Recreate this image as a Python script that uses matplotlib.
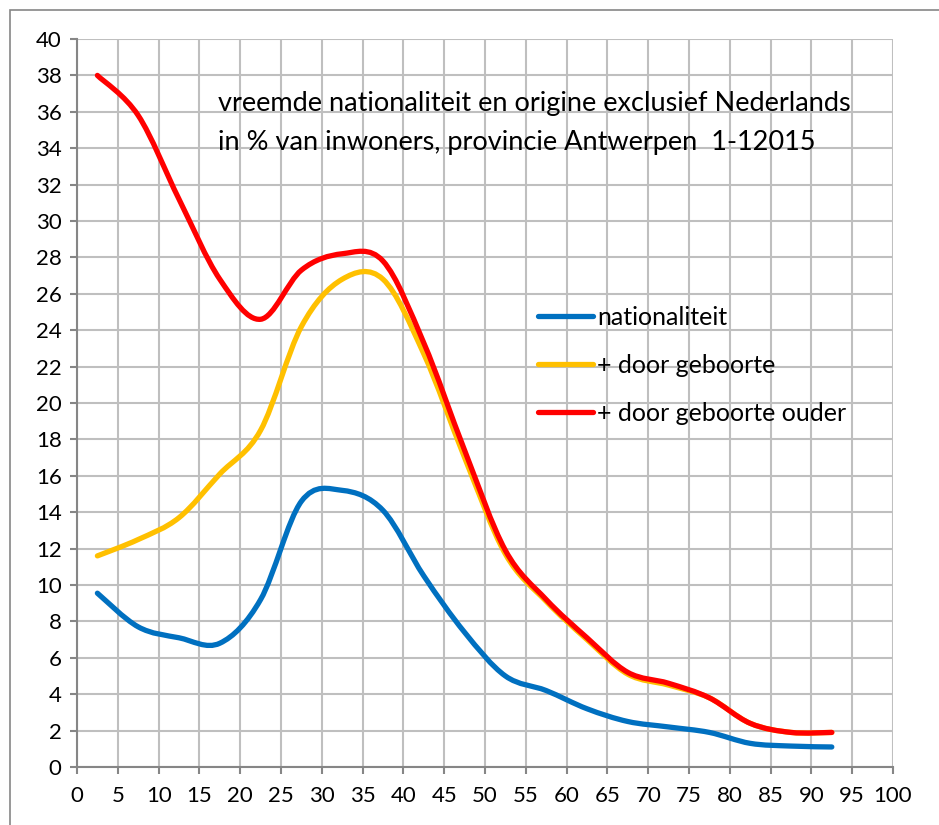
import numpy as np
import matplotlib
matplotlib.use("Agg")
import matplotlib.pyplot as plt
from matplotlib.path import Path
from matplotlib.patches import PathPatch, Rectangle
from matplotlib.lines import Line2D

plt.rcParams['font.family'] = ['Lato', 'DejaVu Sans']

# age group midpoints (5-year groups)
ages = [2.5, 7.5, 12.5, 17.5, 22.5, 27.5, 32.5, 37.5, 42.5, 47.5,
        52.5, 57.5, 62.5, 67.5, 72.5, 77.5, 82.5, 87.5, 92.5]

nationaliteit = [9.55, 7.7, 7.1, 6.8, 9.2, 14.6, 15.2, 14.1, 10.5, 7.4,
                 5.0, 4.2, 3.2, 2.5, 2.2, 1.9, 1.3, 1.15, 1.1]
door_geboorte = [11.6, 12.5, 13.7, 16.1, 18.5, 24.2, 26.8, 26.8, 22.7, 17.0,
                 11.7, 9.1, 7.0, 5.1, 4.5, 3.8, 2.4, 1.9, 1.9]
door_geboorte_ouder = [38.0, 35.8, 31.2, 26.8, 24.6, 27.3, 28.2, 27.8, 23.3, 17.4,
                       11.9, 9.2, 7.1, 5.2, 4.6, 3.8, 2.4, 1.9, 1.9]

series = [
    ("nationaliteit", nationaliteit, "#0070C0"),
    ("+ door geboorte", door_geboorte, "#FFC000"),
    ("+ door geboorte ouder", door_geboorte_ouder, "#FF0000"),
]

title_lines = ["vreemde nationaliteit en origine exclusief Nederlands",
               "in % van inwoners, provincie Antwerpen  1-12015"]


# Excel-style smoothed line: cubic bezier through the data points
def smooth_path(xs, ys):
    p = np.column_stack([xs, ys])
    n = len(p)
    verts = [p[0]]
    codes = [Path.MOVETO]
    for i in range(n - 1):
        p0 = p[i - 1] if i > 0 else p[i]
        p3 = p[i + 2] if i + 2 < n else p[i + 1]
        c1 = p[i] + (p[i + 1] - p0) / 6.0
        c2 = p[i + 1] - (p3 - p[i]) / 6.0
        verts += [c1, c2, p[i + 1]]
        codes += [Path.CURVE4] * 3
    return Path(verts, codes)


fig = plt.figure(figsize=(9.39, 8.25), dpi=100)
W, H = 939, 825

# chart-area border
fig.patches.append(Rectangle((10 / W, -0.1), 1.2, 1 - 10 / H + 0.1,
                             transform=fig.transFigure, fill=False,
                             edgecolor="#868686", linewidth=1.2))

ax = fig.add_axes([77 / W, 1 - 767 / H, (893 - 77) / W, (767 - 39) / H])
ax.set_xlim(0, 100)
ax.set_ylim(0, 40)
ax.set_xticks(np.arange(0, 101, 5))
ax.set_yticks(np.arange(0, 41, 2))
ax.grid(True, color="#BFBFBF", linewidth=1.5)
ax.set_axisbelow(True)
for s in ["top", "right"]:
    ax.spines[s].set_visible(False)
for s in ["left", "bottom"]:
    ax.spines[s].set_color("#868686")
    ax.spines[s].set_linewidth(1.5)
ax.tick_params(direction="out", length=5, width=1.5, color="#868686",
               labelsize=16, pad=6)
ax.tick_params(axis="x", pad=9)

handles = []
for name, vals, col in series:
    patch = PathPatch(smooth_path(ages, vals), facecolor="none", edgecolor=col,
                      linewidth=3.8, capstyle="round", joinstyle="round", zorder=3)
    ax.add_patch(patch)
    handles.append(Line2D([], [], color=col, linewidth=3.8,
                          solid_capstyle="round", label=name))

ax.legend(handles=handles, loc="upper left", bbox_to_anchor=(0.553, 0.647),
          frameon=False, fontsize=18, handlelength=2.2, handletextpad=0.15,
          labelspacing=1.0, borderaxespad=0)

ax.text(0.173, 0.911, title_lines[0], transform=ax.transAxes,
        fontsize=19.5, va="center", ha="left")
ax.text(0.173, 0.858, title_lines[1], transform=ax.transAxes,
        fontsize=19.5, va="center", ha="left")

fig.savefig("out.png", dpi=100)
